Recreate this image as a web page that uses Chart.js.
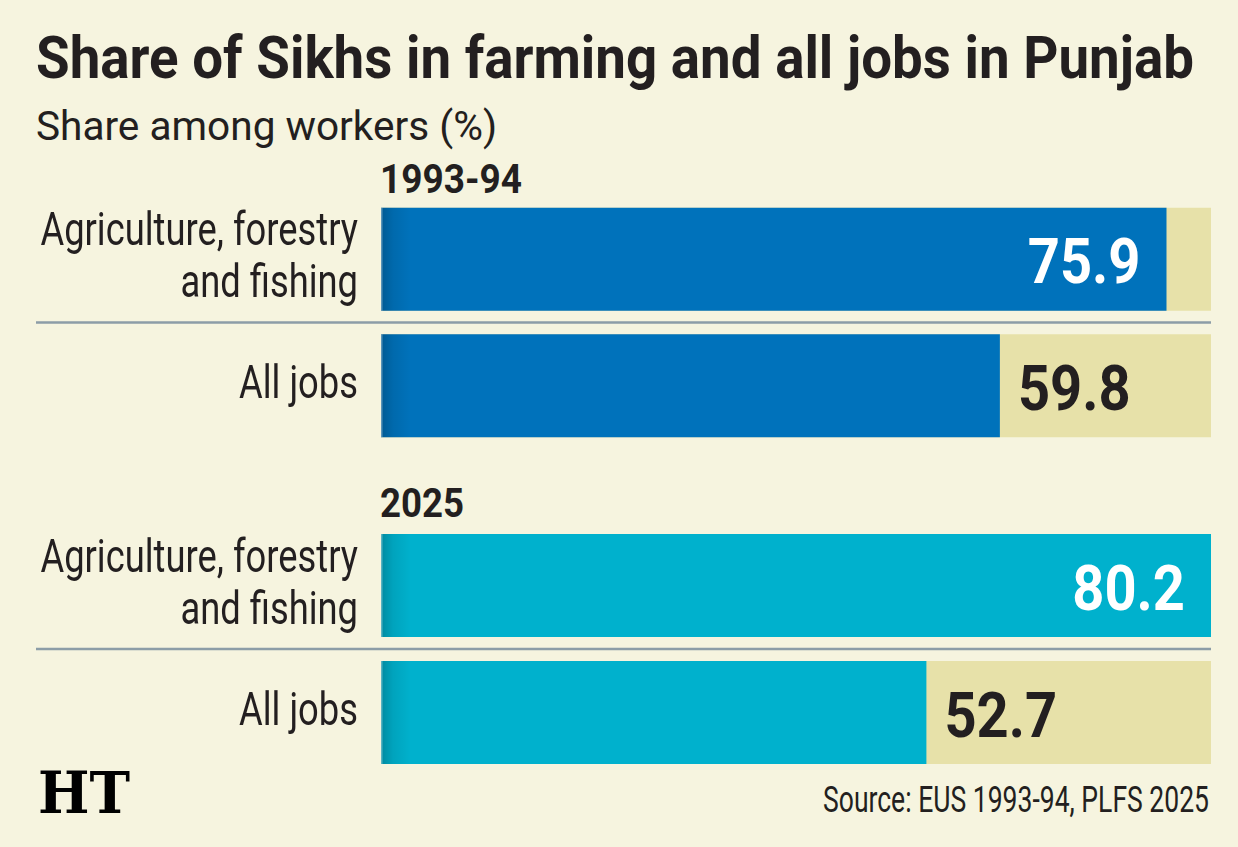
<!DOCTYPE html>
<html><head><meta charset="utf-8">
<script src="https://cdn.jsdelivr.net/npm/chart.js@4.4.1/dist/chart.umd.min.js"></script>
<style>
html,body{margin:0;padding:0;background:#F6F4DF;}
#page{position:relative;width:1238px;height:847px;overflow:hidden;background:#F6F4DF;font-family:Roboto,'Open Sans',sans-serif;color:#231F20;}
.t{position:absolute;white-space:nowrap;line-height:1;transform-origin:0 0;display:inline-block;}
canvas{position:absolute;left:0;}
</style></head>
<body><div id="page">
<div class="t fit" id="title" style="left:36px;top:27.5px;font-size:60px;font-weight:700;" data-w="1158">Share of Sikhs in farming and all jobs in Punjab</div>
<div class="t fit" id="sub" style="left:36px;top:106.5px;font-size:40px;" data-w="461">Share among workers (%)</div>
<div class="t fit" id="h0" style="left:380px;top:159.5px;font-size:40px;font-weight:700;" data-w="142"></div>
<div class="t fit" id="h1" style="left:380px;top:484px;font-size:40px;font-weight:700;" data-w="84"></div>
<div class="t fit" id="src" style="left:823px;top:781.5px;font-size:36px;" data-w="386">Source: EUS 1993-94, PLFS 2025</div>
<div class="t fit" id="ht" style="left:38px;top:764px;font-size:58px;font-weight:700;font-family:'DejaVu Serif',serif;color:#000;" data-w="92">HT</div>
<canvas id="c0" width="1238" height="253" style="top:196px;width:1238px;height:253px;"></canvas>
<canvas id="c1" width="1238" height="254" style="top:522px;width:1238px;height:254px;"></canvas>
</div>
<script>
// ---- data ----
const periods = ['1993-94', '2025'];
const categories = [['Agriculture, forestry', 'and fishing'], ['All jobs']];
const values1993 = [75.9, 59.8];
const values2025 = [80.2, 52.7];

// ---- style ----
const barColors = ['#0072BB', '#00B1CD'];
const trackColor = '#E7E1A9';
const xMax = Math.max(...values1993, ...values2025);

document.getElementById('h0').textContent = periods[0];
document.getElementById('h1').textContent = periods[1];

const decor = {
  id: 'decor',
  beforeDatasetsDraw(chart) {
    const ctx = chart.ctx, a = chart.chartArea, bars = chart.getDatasetMeta(0).data;
    ctx.save();
    ctx.fillStyle = trackColor;
    bars.forEach(b => ctx.fillRect(a.left, b.y - b.height / 2, a.right - a.left, b.height));
    ctx.strokeStyle = '#8C9DA7'; ctx.lineWidth = 2.5;
    for (let i = 1; i < bars.length; i++) {
      const y = (bars[i - 1].y + bars[i].y) / 2;
      ctx.beginPath(); ctx.moveTo(36, y); ctx.lineTo(a.right, y); ctx.stroke();
    }
    ctx.restore();
  },
  afterDatasetsDraw(chart) {
    const ctx = chart.ctx, a = chart.chartArea, bars = chart.getDatasetMeta(0).data;
    const vals = chart.data.datasets[0].data, labels = chart.data.labels;
    ctx.save();
    // left-edge shading
    bars.forEach(b => {
      const top = b.y - b.height / 2;
      const g = ctx.createLinearGradient(a.left, 0, a.left + 30, 0);
      g.addColorStop(0, 'rgba(0,0,0,0.22)');
      g.addColorStop(0.4, 'rgba(0,0,0,0.08)');
      g.addColorStop(1, 'rgba(0,0,0,0)');
      ctx.fillStyle = g;
      ctx.fillRect(a.left, top, 30, b.height);
      ctx.fillStyle = 'rgba(255,255,255,0.35)';
      ctx.fillRect(a.left, top, 1.5, b.height);
    });
    // category labels
    ctx.fillStyle = '#231F20';
    ctx.font = '46px Roboto, "Open Sans", sans-serif';
    ctx.textAlign = 'right'; ctx.textBaseline = 'alphabetic';
    bars.forEach((b, i) => {
      const lines = Array.isArray(labels[i]) ? labels[i] : [labels[i]];
      const n = lines.length;
      lines.forEach((ln, j) => {
        const y = b.y + 12 - (n - 1) * 26 + j * 52;
        ctx.save(); ctx.translate(a.left - 23, y); ctx.scale(0.79, 1);
        ctx.fillText(ln, 0, 0); ctx.restore();
      });
    });
    // value labels
    ctx.font = 'bold 63px Roboto, "Open Sans", sans-serif';
    const sx = 0.89;
    bars.forEach((b, i) => {
      const txt = vals[i].toFixed(1);
      const w = ctx.measureText(txt).width * sx;
      const room = a.right - b.x;
      ctx.save();
      if (room < w + 40) {
        ctx.fillStyle = '#FFFFFF';
        ctx.translate(b.x - 26 - w, b.y + 24);
      } else {
        ctx.fillStyle = '#231F20';
        ctx.translate(b.x + 18, b.y + 24);
      }
      ctx.scale(sx, 1); ctx.textAlign = 'left';
      ctx.fillText(txt, 0, 0);
      ctx.restore();
    });
    ctx.restore();
  }
};

function makeChart(id, values, color, pct) {
  return new Chart(document.getElementById(id), {
    type: 'bar',
    data: { labels: categories, datasets: [{ data: values, backgroundColor: color, borderWidth: 0, categoryPercentage: 1, barPercentage: pct }] },
    options: {
      indexAxis: 'y', responsive: false, animation: false, devicePixelRatio: 1,
      layout: { padding: { left: 381, right: 27, top: 0, bottom: 0 } },
      scales: { x: { display: false, min: 0, max: xMax }, y: { display: false } },
      plugins: { legend: { display: false }, tooltip: { enabled: false } }
    },
    plugins: [decor]
  });
}

makeChart('c0', values1993, barColors[0], 103 / 126.5);
makeChart('c1', values2025, barColors[1], 103 / 127);

function fit() {
  document.querySelectorAll('.fit').forEach(el => {
    el.style.transform = 'none';
    const w = el.getBoundingClientRect().width;
    const t = parseFloat(el.dataset.w);
    if (w > 0) el.style.transform = 'scaleX(' + (t / w) + ')';
  });
}
fit();
if (document.fonts && document.fonts.ready) document.fonts.ready.then(fit);
</script>
</body></html>
